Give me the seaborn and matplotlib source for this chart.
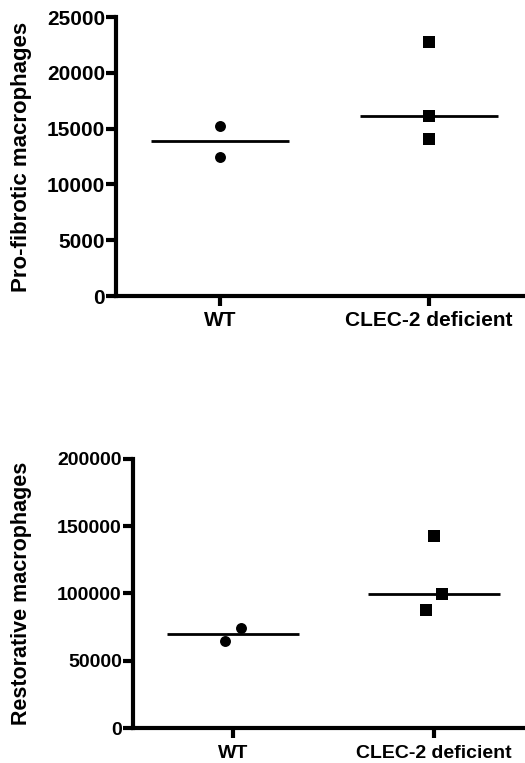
import numpy as np
import pandas as pd
import matplotlib
matplotlib.use("Agg")
import matplotlib.pyplot as plt
import seaborn as sns

sns.set_theme(style="ticks")
plt.rcParams["font.family"] = ["Liberation Sans", "DejaVu Sans"]
plt.rcParams["font.weight"] = "bold"
plt.rcParams["text.color"] = "black"
plt.rcParams["axes.labelcolor"] = "black"

groups = ["WT", "CLEC-2 deficient"]

# Pro-fibrotic macrophage counts per animal
profib_wt = [15200, 12500]
profib_clec = [22800, 16150, 14100]

# Restorative macrophage counts per animal
restor_wt = [74400, 65000]
restor_clec = [143000, 99400, 87500]

profib_ticks = [0, 5000, 10000, 15000, 20000, 25000]
restor_ticks = [0, 50000, 100000, 150000, 200000]

# horizontal nudges so close points stay readable (category units)
restor_wt_nudge = [0.04, -0.04]
restor_clec_nudge = [0.0, 0.04, -0.04]

markers = {"WT": "o", "CLEC-2 deficient": "s"}
msizes = {"WT": 62, "CLEC-2 deficient": 72}


def build(values, nudges=None):
    rows = []
    for gi, (g, vals) in enumerate(zip(groups, values)):
        nd = nudges[gi] if nudges is not None else [0.0] * len(vals)
        for v, d in zip(vals, nd):
            rows.append({"group": g, "pos": gi + d, "count": v})
    return pd.DataFrame(rows)


def panel(ax, df, ticks, ylabel, xlim, fs_tick, fs_label, xpad):
    for g in groups:
        sub = df[df["group"] == g]
        sns.scatterplot(data=sub, x="pos", y="count", marker=markers[g],
                        s=msizes[g], color="black", linewidth=0, ax=ax,
                        legend=False, zorder=3, clip_on=False)
        gi = groups.index(g)
        ax.hlines(np.median(sub["count"]), gi - 0.33, gi + 0.33,
                  color="black", lw=2.0, zorder=2)
    ax.set_xlim(*xlim)
    ax.set_ylim(ticks[0], ticks[-1])
    ax.set_yticks(ticks)
    ax.set_yticklabels([str(t) for t in ticks], fontsize=fs_tick,
                       fontweight="bold")
    ax.set_xticks(range(len(groups)))
    ax.set_xticklabels(groups, fontsize=fs_tick, fontweight="bold")
    ax.set_xlabel("")
    ax.set_ylabel(ylabel, fontsize=fs_label, fontweight="bold",
                  color="black")
    for side in ["top", "right"]:
        ax.spines[side].set_visible(False)
    for side in ["left", "bottom"]:
        ax.spines[side].set_linewidth(3.0)
        ax.spines[side].set_color("black")
    ax.tick_params(axis="both", direction="out", length=7, width=3.0,
                   color="black", labelcolor="black")
    ax.tick_params(axis="y", pad=1)
    ax.tick_params(axis="x", pad=xpad)
    ax.set_facecolor("white")


fig = plt.figure(figsize=(5.25, 7.63), dpi=100)
fig.patch.set_facecolor("white")

ax1 = fig.add_axes([0.221, 0.612, 0.779, 0.3657])
ax2 = fig.add_axes([0.2533, 0.0455, 0.7467, 0.3533])

panel(ax1, build([profib_wt, profib_clec]), profib_ticks,
      "Pro-fibrotic macrophages", (-0.498, 1.459), 15, 16, 4)
panel(ax2, build([restor_wt, restor_clec],
                 [restor_wt_nudge, restor_clec_nudge]), restor_ticks,
      "Restorative macrophages", (-0.4975, 1.453), 14, 15.5, 5)

# place both y labels at the same horizontal position in the figure
for ax in (ax1, ax2):
    bb = ax.get_position()
    x_fig = 32 / 525
    ax.yaxis.set_label_coords((x_fig - bb.x0) / bb.width, 0.5)

fig.savefig("out.png", dpi=100, facecolor="white")
